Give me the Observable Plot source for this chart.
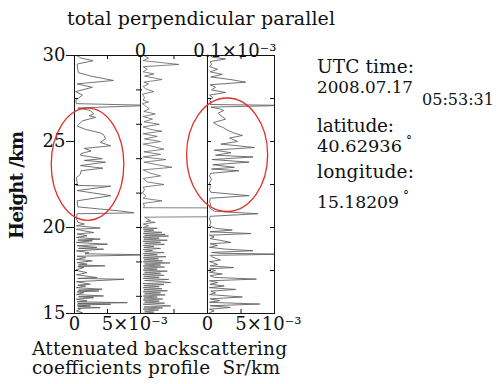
<!DOCTYPE html>
<html><head><meta charset="utf-8">
<script src="https://cdn.jsdelivr.net/npm/d3@7"></script>
<script src="https://cdn.jsdelivr.net/npm/@observablehq/plot@0.6"></script>
<style>
body{margin:0;background:#fff;}
#wrap{position:relative;width:499px;height:384px;}
#wrap svg{position:absolute;left:0;top:0;}
#txt text{font-family:"DejaVu Serif",serif;fill:#111;}
</style></head><body><div id="wrap">
<svg id="txt" width="499" height="384" style="position:absolute;left:0;top:0">
<text x="67" y="25" font-size="19" textLength="268" lengthAdjust="spacing">total perpendicular parallel</text>
<text transform="translate(23,185) rotate(-90)" text-anchor="middle" font-size="18" font-weight="bold" textLength="108" lengthAdjust="spacing">Height /km</text>
<text x="32" y="355" font-size="18.5" textLength="255" lengthAdjust="spacing">Attenuated backscattering</text>
<text x="32" y="374" font-size="18.5" xml:space="preserve" textLength="248" lengthAdjust="spacing">coefficients profile  Sr/km</text>
<text x="317" y="73" font-size="18.5" textLength="97" lengthAdjust="spacing">UTC time:</text>
<text x="317" y="93" font-size="17" textLength="96" lengthAdjust="spacingAndGlyphs">2008.07.17</text>
<text x="422" y="105" font-size="16" textLength="72" lengthAdjust="spacingAndGlyphs">05:53:31</text>
<text x="317" y="132" font-size="18.5" textLength="77" lengthAdjust="spacing">latitude:</text>
<text x="317" y="152" font-size="17" textLength="85" lengthAdjust="spacingAndGlyphs">40.62936</text>
<text x="406" y="145" font-size="12">°</text>
<text x="317" y="178" font-size="18.5" textLength="97" lengthAdjust="spacing">longitude:</text>
<text x="317" y="208" font-size="17" textLength="82" lengthAdjust="spacingAndGlyphs">15.18209</text>
<text x="403" y="200" font-size="12">°</text>
</svg>
</div>
<script>
// Heights in km, values in units of 10^-3 Sr/km
const totalProfile = [
[30.0,0.3],[29.85,1.0],[29.7,2.8],[29.5,0.4],[29.2,0.5],[29.0,0.6],[28.8,2.5],[28.55,5.9],[28.35,0.4],[28.15,2.7],
[27.9,0.15],[27.7,1.2],[27.4,0.2],[27.2,0.3],[27.1,12],[26.95,0.5],[26.8,2.4],[26.6,2.9],[26.5,2.2],[26.4,3.2],
[26.2,1.2],[25.9,0.4],[25.7,1.7],[25.5,3.9],[25.4,4.4],[25.15,4.7],[24.95,3.9],[24.75,5.5],[24.6,1.5],[24.45,2.5],
[24.3,1.0],[24.2,0.9],[24.0,4.2],[23.9,1.5],[23.8,4.7],[23.6,0.9],[23.45,4.3],[23.3,1.0],[23.1,0.9],[22.9,0.3],
[22.6,0.4],[22.45,0.3],[22.4,5.5],[22.15,0.4],[21.85,5.5],[21.55,0.4],[21.2,0.5],[20.95,7.2],[20.85,9.0],[20.8,0.4],
[20.5,0.3],[20.3,0.5],[20.2,1.5],[20.1,0.3],[19.97,3.9],[19.9,0.3],[19.8,1.5],[19.71,2.9],[19.62,0.4],[19.52,1.9],
[19.42,0.3],[19.32,3.9],[19.27,0.5],[19.23,2.7],[19.13,0.3],[19.03,5.0],[18.94,0.4],[18.84,3.4],[18.79,0.6],[18.74,4.4],
[18.64,0.3],[18.54,2.2],[18.47,1.6],[18.41,12],[18.33,0.4],[18.25,1.7],[18.15,0.3],[18.06,2.7],[17.96,0.4],[17.87,1.9],
[17.82,0.6],[17.77,4.6],[17.72,0.5],[17.67,1.4],[17.55,0.3],[17.47,0.65],[17.38,1.9],[17.25,0.3],[17.09,3.4],[17.04,0.5],
[16.99,7.5],[16.85,0.3],[16.7,2.4],[16.65,0.5],[16.6,1.7],[16.5,0.3],[16.41,4.2],[16.36,0.6],[16.31,3.7],[16.26,0.4],
[16.21,1.4],[16.1,0.3],[16.02,4.4],[15.97,0.6],[15.92,2.9],[15.83,0.3],[15.73,1.9],[15.68,0.4],[15.63,8.0],[15.58,0.5],
[15.54,5.5],[15.49,0.4],[15.44,2.4],[15.39,0.5],[15.34,3.9],[15.29,0.5],[15.25,0.9],[15.15,0.3],[15.05,1.2],[15.0,0.4]
];
const perpendicularProfile = [
[30.0,0.005],[29.85,0.012],[29.7,0.004],[29.48,0.057],[29.35,0.004],[29.2,0.01],[29.05,0.004],[28.93,0.02],[28.8,0.006],[28.6,0.032],
[28.45,0.005],[28.35,0.012],[28.2,0.004],[28.05,0.008],[27.9,0.02],[27.75,0.003],[27.55,0.006],[27.4,0.004],[27.3,0.012],[27.2,0.003],
[27.05,0.008],[26.9,0.013],[26.75,0.005],[26.6,0.022],[26.45,0.004],[26.3,0.018],[26.15,0.005],[26.0,0.028],[25.85,0.004],[25.7,0.015],
[25.6,0.032],[25.45,0.004],[25.3,0.025],[25.15,0.006],[25.0,0.03],[24.85,0.004],[24.7,0.02],[24.55,0.035],[24.4,0.005],[24.25,0.03],
[24.1,0.004],[23.95,0.038],[23.8,0.005],[23.65,0.025],[23.5,0.047],[23.35,0.004],[23.15,0.015],[23.0,0.03],[22.85,0.004],[22.65,0.01],
[22.5,0.035],[22.35,0.004],[22.2,0.006],[22.0,0.003],[21.85,0.008],[21.7,0.004],[21.55,0.032],[21.4,0.004],[21.25,0.006],[21.15,0.004],
[21.13,0.2],[20.65,0.2],[20.6,0.006],[20.5,0.01],[20.4,0.015],[20.35,0.008],[20.3,0.022],[20.2,0.004],[20.1,0.012],[20.0,0.004],
[19.95,0.025],[19.9,0.004],[19.85,0.02],[19.78,0.005],[19.72,0.032],[19.66,0.004],[19.6,0.037],[19.55,0.006],[19.5,0.042],[19.44,0.004],
[19.38,0.028],[19.32,0.005],[19.26,0.04],[19.2,0.004],[19.14,0.03],[19.08,0.006],[19.02,0.036],[18.96,0.004],[18.9,0.02],[18.84,0.005],
[18.78,0.03],[18.72,0.004],[18.66,0.018],[18.6,0.006],[18.54,0.035],[18.48,0.004],[18.42,0.025],[18.36,0.005],[18.3,0.038],[18.24,0.004],
[18.18,0.027],[18.12,0.005],[18.06,0.033],[18.0,0.004],[17.94,0.044],[17.88,0.006],[17.82,0.03],[17.76,0.004],[17.7,0.036],[17.64,0.005],
[17.58,0.025],[17.52,0.004],[17.46,0.04],[17.4,0.006],[17.34,0.03],[17.28,0.004],[17.22,0.035],[17.16,0.005],[17.1,0.028],[17.04,0.004],
[16.98,0.042],[16.92,0.006],[16.86,0.03],[16.8,0.045],[16.74,0.004],[16.68,0.035],[16.62,0.005],[16.56,0.028],[16.5,0.004],[16.44,0.032],
[16.38,0.005],[16.32,0.04],[16.26,0.004],[16.2,0.03],[16.14,0.006],[16.08,0.037],[16.02,0.004],[15.96,0.025],[15.9,0.005],[15.84,0.033],
[15.78,0.004],[15.72,0.028],[15.66,0.006],[15.6,0.036],[15.54,0.004],[15.48,0.03],[15.44,0.045],[15.38,0.005],[15.32,0.033],[15.26,0.004],
[15.2,0.027],[15.14,0.006],[15.08,0.02],[15.02,0.004]
];
const parallelProfile = [
[30.0,0.3],[29.9,0.8],[29.8,2.7],[29.65,0.4],[29.5,0.6],[29.35,0.3],[29.2,1.5],[29.05,0.4],[28.9,2.2],[28.75,0.5],
[28.6,3.5],[28.45,5.7],[28.3,0.4],[28.15,1.2],[28.0,0.6],[27.85,2.7],[27.7,0.3],[27.55,0.8],[27.4,0.3],[27.25,0.6],
[27.15,0.4],[27.1,12],[27.0,0.5],[26.9,1.8],[26.8,2.4],[26.65,1.6],[26.5,2.0],[26.3,2.7],[26.1,0.9],[25.95,1.5],
[25.8,2.4],[25.65,3.0],[25.5,3.9],[25.35,5.2],[25.2,3.3],[25.0,4.5],[24.85,2.0],[24.65,7.0],[24.5,1.0],[24.35,3.5],
[24.2,1.2],[24.1,6.8],[23.95,0.7],[23.8,6.2],[23.65,0.8],[23.5,4.0],[23.4,0.6],[23.3,4.7],[23.15,0.5],[23.0,0.3],
[22.8,0.6],[22.6,0.3],[22.4,0.4],[22.2,0.3],[22.05,0.5],[21.85,6.2],[21.7,0.4],[21.5,0.3],[21.3,0.5],[21.15,0.3],
[20.95,1.0],[20.8,7.5],[20.65,0.4],[20.5,0.3],[20.3,0.5],[20.1,0.3],[19.95,1.2],[19.85,3.7],[19.75,0.4],[19.65,6.5],
[19.55,0.3],[19.45,1.0],[19.35,0.4],[19.25,2.0],[19.13,3.5],[19.05,0.4],[18.95,1.5],[18.85,0.3],[18.75,2.5],[18.65,6.8],
[18.55,0.6],[18.5,2.0],[18.45,12],[18.38,0.4],[18.3,0.6],[18.2,1.3],[18.1,1.9],[18.02,0.3],[17.95,0.8],[17.85,1.5],
[17.77,0.4],[17.67,3.9],[17.6,0.3],[17.5,1.2],[17.4,0.3],[17.3,2.2],[17.2,0.4],[17.1,1.0],[17.0,7.3],[16.9,0.3],
[16.8,1.5],[16.7,0.4],[16.6,2.5],[16.5,0.3],[16.4,4.2],[16.3,0.5],[16.2,1.2],[16.1,0.3],[15.96,5.2],[15.85,0.4],
[15.75,1.8],[15.65,0.3],[15.55,7.8],[15.45,0.4],[15.35,3.4],[15.25,0.3],[15.15,1.0],[15.05,0.3],[15.0,0.4]
];
const heightDomain = [15, 30];
const totalDomain = [0, 10];
const perpendicularDomain = [0, 0.1];
const parallelDomain = [0, 10];
const heightLabels = [15, 20, 25, 30];
const heightMinorTicks = [17.5, 22.5, 27.5];
const perpendicularHeightTicks = [16, 18, 20, 22, 24, 26, 28];
const parallelHeightTicks = [17.5, 20, 22.5, 25, 27.5];
const bottomTickValues = [0, 5];
const bottomTickLabels = ["0", "5×10⁻³"];
const topTickValues = [0, 0.1];
const topTickLabels = ["0", "0.1×10⁻³"];
// highlighted regions [center value, center height, value radius, height radius]
const totalEllipse = [2.05, 23.65, 5.5, 3.26];
const parallelEllipse = [3.0, 24.2, 6.05, 3.3];

const W = 499, H = 384, TOP = 55, BOTTOM = 71;
const FONT = "DejaVu Serif, serif";
const LINE = "#5a5a5a";

function ellipseMark(e) {
  return (index, scales) => {
    const {x, y} = scales;
    const el = document.createElementNS("http://www.w3.org/2000/svg", "ellipse");
    const cx = x(e[0]), cy = y(e[1]);
    el.setAttribute("cx", cx); el.setAttribute("cy", cy);
    el.setAttribute("rx", Math.abs(x(e[0] + e[2]) - cx));
    el.setAttribute("ry", Math.abs(y(e[1] + e[3]) - cy));
    el.setAttribute("fill", "none");
    el.setAttribute("stroke", "#e0302a");
    el.setAttribute("stroke-width", 1.3);
    return el;
  };
}

function panel(left, right, domain, marks) {
  return Plot.plot({
    width: W, height: H, marginTop: TOP, marginBottom: BOTTOM,
    marginLeft: left, marginRight: W - right,
    x: {domain, axis: null}, y: {domain: heightDomain, axis: null},
    style: {background: "none", fontFamily: FONT, fontSize: "18px", color: "#111", overflow: "visible"},
    marks
  });
}
const pw1 = 66, pw2 = 67, pw3 = 67, ph = H - TOP - BOTTOM;

const p1 = panel(74, 140, totalDomain, [
  Plot.line(totalProfile, {x: d => d[1], y: d => d[0], stroke: LINE, strokeWidth: 0.85, clip: true}),
  Plot.frame({stroke: "#111"}),
  Plot.tickY(heightLabels, {y: d => d, insetRight: pw1 - 8, dx: -8, stroke: "#111"}),
  Plot.tickY(heightMinorTicks, {y: d => d, insetRight: pw1 - 4, stroke: "#111"}),
  Plot.tickX([5], {x: d => d, insetBottom: ph - 4, stroke: "#111"}),
  Plot.tickX([5], {x: d => d, insetTop: ph - 4, stroke: "#111"}),
  Plot.text(heightLabels, {y: d => d, text: d => String(d), frameAnchor: "left", textAnchor: "end", dx: -9, fontSize: 18, fill: "#111"}),
  Plot.text(bottomTickValues, {x: d => d, text: (d, i) => bottomTickLabels[i], frameAnchor: "bottom", textAnchor: "start", dx: -5.7, dy: 16, fontSize: 18, fill: "#111"}),
  ellipseMark(totalEllipse)
]);
const p2 = panel(140, 207, perpendicularDomain, [
  Plot.line(perpendicularProfile, {x: d => d[1], y: d => d[0], stroke: LINE, strokeWidth: 0.75, clip: true}),
  Plot.frame({stroke: "#111"}),
  Plot.tickY(perpendicularHeightTicks, {y: d => d, insetRight: pw2 - 6, dx: -4, stroke: "#111"}),
  Plot.tickX([0.05], {x: d => d, insetBottom: ph - 4, stroke: "#111"}),
  Plot.tickX([0.05], {x: d => d, insetTop: ph - 4, stroke: "#111"}),
  Plot.text([topTickValues[0]], {x: d => d, text: () => topTickLabels[0], frameAnchor: "top", textAnchor: "start", dx: -5.7, dy: -11, fontSize: 18, fill: "#111"}),
  Plot.text([topTickValues[1]], {x: d => d, text: () => topTickLabels[1], frameAnchor: "top", textAnchor: "start", dx: -14.3, dy: -11, fontSize: 18, fill: "#111"})
]);
const p3 = panel(207, 274, parallelDomain, [
  Plot.line(parallelProfile, {x: d => d[1], y: d => d[0], stroke: LINE, strokeWidth: 0.85, clip: true}),
  Plot.frame({stroke: "#111"}),
  Plot.tickY(parallelHeightTicks, {y: d => d, insetRight: pw3 - 4, stroke: "#111"}),
  Plot.tickY(parallelHeightTicks, {y: d => d, insetLeft: pw3 - 4, stroke: "#111"}),
  Plot.tickX([5], {x: d => d, insetBottom: ph - 4, stroke: "#111"}),
  Plot.tickX([5], {x: d => d, insetTop: ph - 4, stroke: "#111"}),
  Plot.text(bottomTickValues, {x: d => d, text: (d, i) => bottomTickLabels[i], frameAnchor: "bottom", textAnchor: "start", dx: -5.7, dy: 16, fontSize: 18, fill: "#111"}),
  ellipseMark(parallelEllipse)
]);
const wrap = document.getElementById("wrap");
const txt = document.getElementById("txt");
wrap.insertBefore(p1, txt);
wrap.insertBefore(p2, txt);
wrap.insertBefore(p3, txt);
</script>
</body></html>
